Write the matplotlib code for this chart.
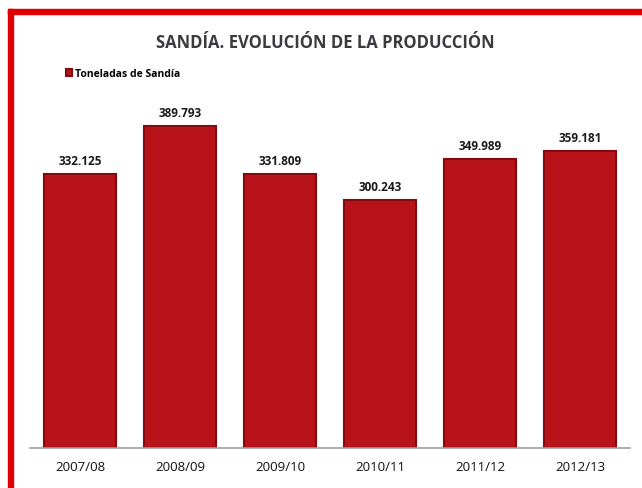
import matplotlib
matplotlib.use("Agg")
import matplotlib.pyplot as plt
from matplotlib.patches import Rectangle

campaigns = ["2007/08", "2008/09", "2009/10", "2010/11", "2011/12", "2012/13"]
toneladas = [332125, 389793, 331809, 300243, 349989, 359181]
title = "SANDÍA. EVOLUCIÓN DE LA PRODUCCIÓN"
legend_label = "Toneladas de Sandía"

W, H = 642, 489
fig = plt.figure(figsize=(W / 100, H / 100), dpi=100)
fig.patch.set_facecolor("white")

ax = fig.add_axes([30 / W, 40 / H, 600 / W, 359 / H])
x = list(range(len(campaigns)))
bars = ax.bar(x, toneladas, width=0.72, color="#b8131b", edgecolor="#86090f",
              linewidth=1.5, label=legend_label, zorder=2)
ax.set_xlim(-0.5, len(campaigns) - 0.5)
ax.set_ylim(0, max(toneladas) * 359 / 322)

def fmt(v):
    return f"{v:,}".replace(",", ".")

for xi, v in zip(x, toneladas):
    ax.annotate(fmt(v), (xi, v), xytext=(0, 5), textcoords="offset points",
                ha="center", va="bottom", fontsize=8.5, fontweight="bold",
                family="Open Sans", color="#1a1a1a")

ax.set_xticks(x)
ax.set_xticklabels(campaigns, fontsize=9.5, family="Open Sans", color="#111111")
ax.tick_params(axis="x", length=0, pad=9)
ax.set_yticks([])
for s in ["top", "right", "left"]:
    ax.spines[s].set_visible(False)
ax.spines["bottom"].set_color("#9aa0a0")
ax.spines["bottom"].set_linewidth(1.2)

fig.text(325 / W, 1 - 43 / H, title, ha="center", va="center", fontsize=12,
         fontweight="bold", family="Open Sans", color="#3a3a40")

leg = ax.legend(loc="upper left", bbox_to_anchor=(66 / W, 1 - 69 / H),
                bbox_transform=fig.transFigure, frameon=False,
                prop={"family": "Open Sans", "size": 7.5, "weight": "bold"},
                handlelength=0.6, handleheight=0.6, handletextpad=0.3,
                borderaxespad=0, borderpad=0)

# red frame (top and left)
fig.patches.append(Rectangle((8 / W, 1 - 15 / H), 1, 5 / H, transform=fig.transFigure,
                             color="#e00000", zorder=5))
fig.patches.append(Rectangle((8 / W, 0), 5 / W, 1 - 10 / H, transform=fig.transFigure,
                             color="#e00000", zorder=5))

fig.savefig("out.png", dpi=100)
